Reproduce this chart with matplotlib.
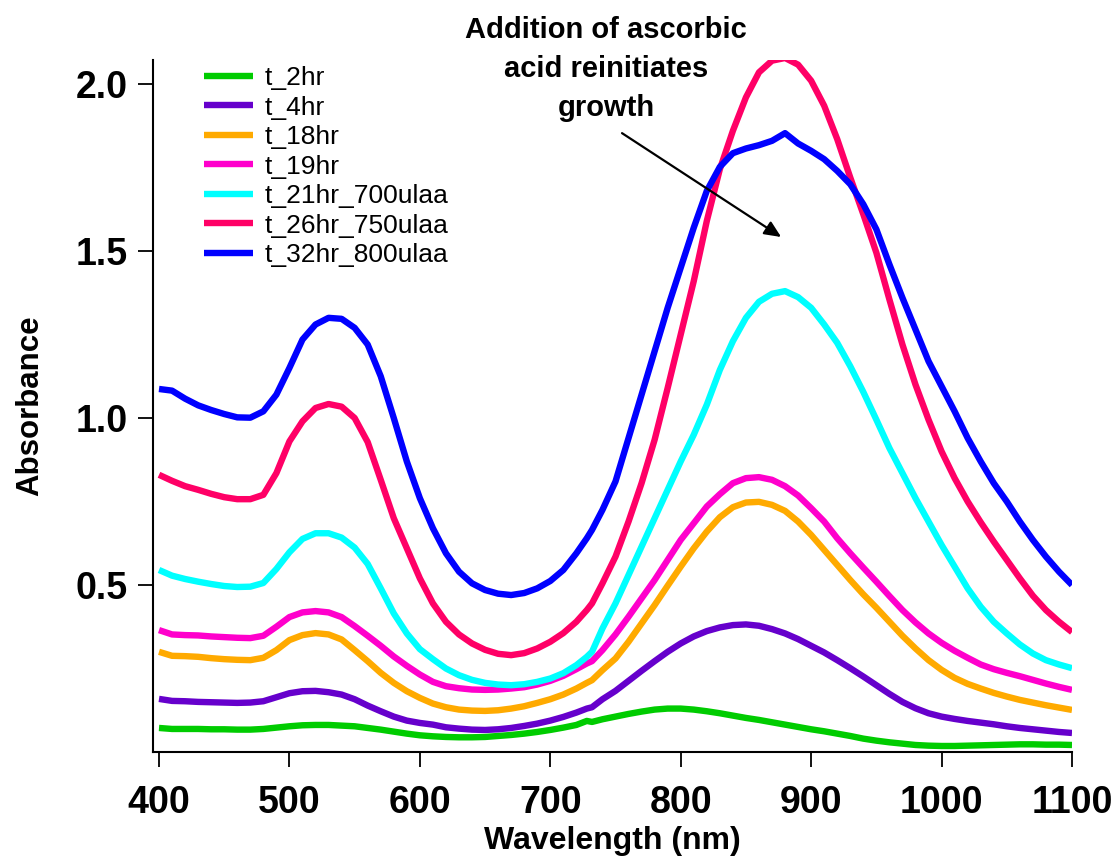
import matplotlib
matplotlib.use("Agg")
import matplotlib.pyplot as plt
import numpy as np

plt.rcParams['font.family'] = ['Liberation Sans', 'DejaVu Sans']

# wavelength grid (nm)
wavelength = [400, 410, 420, 430, 440, 450, 460, 470, 480, 490,
              500, 510, 520, 530, 540, 550, 560, 570, 580, 590,
              600, 610, 620, 630, 640, 650, 660, 670, 680, 690,
              700, 710, 720, 728, 732, 740, 750, 760, 770, 780,
              790, 800, 810, 820, 830, 840, 850, 860, 870, 880,
              890, 900, 910, 920, 930, 940, 950, 960, 970, 980,
              990, 1000, 1010, 1020, 1030, 1040, 1050, 1060, 1070, 1080,
              1090, 1100]

t_2hr = [0.072, 0.069, 0.069, 0.069, 0.068, 0.068, 0.067, 0.067, 0.069, 0.073,
         0.077, 0.080, 0.081, 0.081, 0.079, 0.077, 0.072, 0.067, 0.061, 0.055,
         0.050, 0.047, 0.045, 0.044, 0.044, 0.045, 0.048, 0.051, 0.055, 0.060,
         0.066, 0.073, 0.081, 0.093, 0.090, 0.098, 0.106, 0.114, 0.121, 0.127,
         0.130, 0.130, 0.127, 0.122, 0.116, 0.109, 0.102, 0.096, 0.089, 0.082,
         0.075, 0.068, 0.062, 0.055, 0.048, 0.040, 0.034, 0.029, 0.025, 0.021,
         0.019, 0.018, 0.018, 0.019, 0.020, 0.021, 0.022, 0.023, 0.023, 0.022,
         0.022, 0.021]

t_4hr = [0.159, 0.153, 0.152, 0.150, 0.149, 0.148, 0.147, 0.148, 0.152, 0.164,
         0.176, 0.182, 0.183, 0.179, 0.172, 0.158, 0.139, 0.122, 0.106, 0.094,
         0.087, 0.082, 0.074, 0.070, 0.067, 0.066, 0.068, 0.072, 0.078, 0.085,
         0.094, 0.105, 0.118, 0.130, 0.134, 0.158, 0.183, 0.213, 0.243, 0.272,
         0.300, 0.325, 0.346, 0.362, 0.373, 0.380, 0.382, 0.378, 0.368, 0.355,
         0.338, 0.318, 0.298, 0.275, 0.251, 0.226, 0.200, 0.174, 0.150, 0.131,
         0.116, 0.106, 0.099, 0.093, 0.088, 0.083, 0.077, 0.072, 0.068, 0.064,
         0.060, 0.057]

t_18hr = [0.300, 0.288, 0.287, 0.285, 0.281, 0.278, 0.276, 0.275, 0.282, 0.305,
          0.335, 0.350, 0.356, 0.352, 0.337, 0.305, 0.272, 0.237, 0.207, 0.182,
          0.162, 0.145, 0.134, 0.127, 0.124, 0.123, 0.125, 0.130, 0.137, 0.147,
          0.158, 0.172, 0.190, 0.207, 0.215, 0.245, 0.280, 0.330, 0.385, 0.440,
          0.498, 0.555, 0.610, 0.660, 0.703, 0.733, 0.747, 0.749, 0.740, 0.722,
          0.690, 0.650, 0.605, 0.560, 0.515, 0.472, 0.432, 0.390, 0.348, 0.310,
          0.275, 0.246, 0.222, 0.204, 0.190, 0.177, 0.166, 0.156, 0.148, 0.140,
          0.133, 0.126]

t_19hr = [0.365, 0.352, 0.350, 0.349, 0.346, 0.344, 0.342, 0.341, 0.348, 0.375,
          0.404, 0.418, 0.422, 0.418, 0.404, 0.377, 0.348, 0.318, 0.286, 0.258,
          0.232, 0.210, 0.197, 0.191, 0.187, 0.186, 0.187, 0.190, 0.194, 0.202,
          0.213, 0.228, 0.248, 0.265, 0.272, 0.305, 0.352, 0.405, 0.460, 0.515,
          0.575, 0.635, 0.685, 0.735, 0.772, 0.805, 0.820, 0.823, 0.815, 0.796,
          0.768, 0.730, 0.690, 0.640, 0.595, 0.552, 0.510, 0.467, 0.425, 0.388,
          0.355, 0.327, 0.303, 0.282, 0.262, 0.248, 0.237, 0.227, 0.216, 0.205,
          0.195, 0.186]

t_21hr = [0.545, 0.528, 0.518, 0.510, 0.503, 0.497, 0.494, 0.495, 0.506, 0.548,
          0.598, 0.638, 0.655, 0.655, 0.642, 0.612, 0.563, 0.490, 0.415, 0.355,
          0.308, 0.278, 0.250, 0.230, 0.216, 0.207, 0.202, 0.200, 0.203, 0.210,
          0.220, 0.236, 0.260, 0.285, 0.300, 0.370, 0.445, 0.530, 0.615, 0.700,
          0.785, 0.870, 0.950, 1.040, 1.144, 1.230, 1.300, 1.348, 1.372, 1.380,
          1.362, 1.330, 1.280, 1.225, 1.155, 1.078, 0.995, 0.910, 0.835, 0.760,
          0.690, 0.620, 0.555, 0.490, 0.435, 0.390, 0.355, 0.322, 0.295, 0.275,
          0.262, 0.251]

t_26hr = [0.830, 0.812, 0.796, 0.785, 0.773, 0.763, 0.757, 0.757, 0.770, 0.835,
          0.930, 0.990, 1.030, 1.042, 1.034, 1.000, 0.928, 0.815, 0.700, 0.610,
          0.520, 0.445, 0.390, 0.352, 0.325, 0.306, 0.294, 0.290, 0.296, 0.310,
          0.330, 0.356, 0.390, 0.425, 0.445, 0.505, 0.585, 0.690, 0.805, 0.935,
          1.090, 1.250, 1.410, 1.590, 1.745, 1.860, 1.960, 2.035, 2.070, 2.078,
          2.058, 2.010, 1.935, 1.835, 1.720, 1.610, 1.495, 1.355, 1.220, 1.100,
          0.995, 0.900, 0.820, 0.750, 0.688, 0.630, 0.575, 0.520, 0.468, 0.425,
          0.390, 0.359]

t_32hr = [1.087, 1.082, 1.058, 1.038, 1.024, 1.012, 1.002, 1.001, 1.020, 1.070,
          1.150, 1.235, 1.280, 1.300, 1.297, 1.270, 1.220, 1.125, 1.000, 0.870,
          0.760, 0.670, 0.595, 0.540, 0.505, 0.485, 0.474, 0.470, 0.476, 0.490,
          0.512, 0.545, 0.595, 0.640, 0.665, 0.725, 0.810, 0.940, 1.070, 1.200,
          1.330, 1.450, 1.570, 1.680, 1.752, 1.793, 1.807, 1.817, 1.830, 1.853,
          1.822, 1.800, 1.775, 1.740, 1.700, 1.640, 1.565, 1.460, 1.360, 1.265,
          1.170, 1.095, 1.020, 0.940, 0.870, 0.805, 0.750, 0.690, 0.635, 0.585,
          0.540, 0.500]

labels = ['t_2hr', 't_4hr', 't_18hr', 't_19hr',
          't_21hr_700ulaa', 't_26hr_750ulaa', 't_32hr_800ulaa']
series = [t_2hr, t_4hr, t_18hr, t_19hr, t_21hr, t_26hr, t_32hr]
colors = ['#00CC00', '#6600CC', '#FFAA00', '#FF00CC',
          '#00FFFF', '#FF0066', '#0000FF']

fig = plt.figure(figsize=(11.17, 8.63), dpi=100)
ax = fig.add_axes([153/1117, 111/863, (1072-153)/1117, (752-60)/863])

for y, lab, c in zip(series, labels, colors):
    ax.plot(wavelength, y, color=c, lw=4.6, label=lab,
            solid_joinstyle='round', solid_capstyle='butt')

ax.set_xlim(395.4, 1100)
ax.set_ylim(0, 2.072)
ax.set_xticks([400, 500, 600, 700, 800, 900, 1000, 1100])
ax.set_yticks([0.5, 1.0, 1.5, 2.0])
ax.set_yticklabels(['0.5', '1.0', '1.5', '2.0'])

for s in ['top', 'right']:
    ax.spines[s].set_visible(False)
for s in ['left', 'bottom']:
    ax.spines[s].set_linewidth(1.5)

ax.tick_params(axis='both', direction='out', length=11, width=1.3,
               labelsize=27)
ax.tick_params(axis='x', pad=13)
ax.tick_params(axis='y', pad=7)
for t in ax.get_xticklabels() + ax.get_yticklabels():
    t.set_fontweight('bold')

ax.set_xlabel('Wavelength (nm)', fontsize=23, fontweight='bold', labelpad=3)
ax.set_ylabel('Absorbance', fontsize=22.5, fontweight='bold', labelpad=22)

leg = ax.legend(loc='upper left', bbox_to_anchor=(204/1117, 1 - 66/863),
                bbox_transform=fig.transFigure, frameon=False, fontsize=19,
                handlelength=1.85, handletextpad=0.45, labelspacing=0.21,
                borderpad=0, borderaxespad=0)
for line in leg.get_lines():
    line.set_linewidth(4.6)

fig.text(606/1117, 1 - 16/863,
         'Addition of ascorbic\nacid reinitiates\ngrowth',
         ha='center', va='top', fontsize=21, fontweight='bold',
         linespacing=1.5)

ax.annotate('', xy=(877, 1.542), xytext=(755, 1.853),
            arrowprops=dict(arrowstyle='-|>,head_length=1.0,head_width=0.45',
                            color='black', lw=1.6, shrinkA=0, shrinkB=0))

fig.savefig('out.png', dpi=100)
